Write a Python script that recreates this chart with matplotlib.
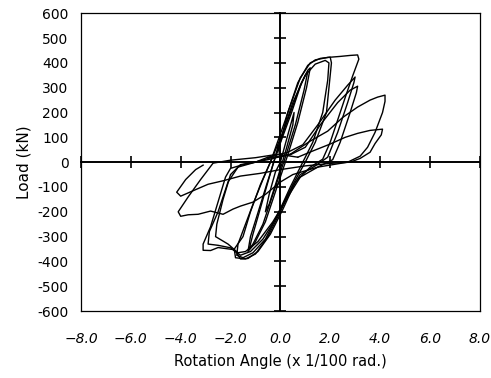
import matplotlib
matplotlib.use("Agg")
import matplotlib.pyplot as plt

# -------------------------------------------------
# Data (rotation angle x 1/100 rad, load kN)
# -------------------------------------------------

X_TICKS = [-8, -6, -4, -2, 0, 2, 4, 6, 8]
X_LABELS = ["\u22128.0", "\u22126.0", "\u22124.0", "\u22122.0", "0.0", "2.0", "4.0", "6.0", "8.0"]
Y_TICKS = [-600, -500, -400, -300, -200, -100, 0, 100, 200, 300, 400, 500, 600]
Y_LABELS = ["-600", "-500", "-400", "-300", "-200", "-100", "0",
            "100", "200", "300", "400", "500", "600"]

# cycle at +-0.5
c1_x = [0.0, 0.3, 0.55, 0.5, 0.2, -0.1, -0.45, -0.6, -0.45, -0.2, 0.0]
c1_y = [0, 110, 200, 150, 40, -60, -170, -200, -130, -40, 0]

# cycles at +-1.0
c2_x = [-0.1, 0.4, 0.8, 1.0, 1.1, 0.95, 0.6, 0.2, -0.2, -0.7, -1.1, -1.25, -1.1, -0.9, -0.5, -0.1]
c2_y = [60, 200, 310, 350, 365, 290, 150, 20, -100, -250, -330, -350, -290, -220, -80, 60]

c3_x = [-0.1, 0.45, 0.85, 1.1, 1.2, 1.05, 0.7, 0.3, -0.1, -0.6, -1.05, -1.3, -1.2, -0.95, -0.55, -0.1]
c3_y = [50, 200, 320, 370, 380, 300, 160, 30, -90, -240, -330, -360, -300, -220, -90, 50]

# cycles at +-2.0
c4_x = [-0.1, 0.3, 0.8, 1.2, 1.6, 2.0, 2.05, 1.85, 1.4, 1.0, 0.5, 0.0, -0.5, -1.0,
        -1.4, -1.8, -1.85, -1.5, -1.2, -0.8, -0.4]
c4_y = [40, 200, 340, 400, 418, 423, 400, 200, 80, 0, -90, -200, -300, -370,
        -390, -385, -350, -300, -200, -90, 0]

c5_x = [-0.4, 0.1, 0.5, 1.0, 1.4, 1.8, 1.95, 1.9, 1.7, 1.3, 0.9, 0.4, -0.1, -0.6,
        -1.1, -1.5, -1.75, -1.7, -1.4, -1.1, -0.7, -0.4]
c5_y = [0, 120, 240, 350, 395, 410, 400, 330, 200, 80, 0, -100, -210, -310,
        -365, -385, -375, -330, -250, -170, -70, 0]

# cycles at +-3.0
c6_x = [-0.4, 0.2, 0.7, 1.1, 1.4, 1.9, 2.4, 2.8, 3.1, 3.15, 2.9, 2.6, 2.3, 2.0, 1.7,
        1.2, 0.6, 0.1, -0.4, -0.9, -1.3, -1.6, -1.75, -1.9, -2.2, -2.5, -2.8, -3.1,
        -3.1, -2.8, -2.5, -2.2, -2.0, -1.5, -1.0, -0.5]
c6_y = [0, 170, 320, 390, 412, 422, 426, 430, 432, 415, 347, 260, 170, 80, 12,
        -20, -80, -190, -290, -360, -388, -390, -365, -352, -348, -344, -356, -355,
        -330, -260, -160, -60, -25, -10, 0, 20]

c7_x = [-0.5, 0.3, 0.9, 1.5, 2.2, 2.7, 3.0, 2.95, 2.7, 2.3, 1.9, 1.4, 0.8, 0.3, -0.2,
        -0.7, -1.2, -1.6, -2.0, -2.5, -2.9, -2.85, -2.5, -2.1, -1.7, -1.0, -0.3]
c7_y = [20, 40, 70, 150, 250, 310, 343, 320, 240, 120, 20, -15, -50, -130, -230,
        -310, -360, -375, -345, -335, -330, -280, -200, -80, -20, 0, 20]

c8_x = [-0.3, 0.4, 1.0, 1.6, 2.3, 2.8, 3.1, 3.05, 2.8, 2.4, 2.1, 1.5, 0.8, 0.3, -0.3,
        -0.9, -1.4, -1.7, -2.1, -2.6, -2.55, -2.3, -2.0, -1.6, -0.5, 0.4]
c8_y = [20, 30, 60, 150, 240, 290, 306, 280, 200, 80, 10, -20, -60, -140, -240,
        -320, -360, -365, -330, -300, -250, -150, -50, -10, 10, 32]

# cycles at +-4.0
c9_x = [0.4, 1.2, 1.9, 2.5, 3.1, 3.6, 3.9, 4.2, 4.2, 4.1, 3.8, 3.5, 3.2, 2.7, 1.5, 0.5,
        0.0, -0.6, -1.1, -1.6, -1.9, -2.3, -2.8, -3.3, -3.7, -4.0, -4.1, -3.7, -3.2,
        -2.7, -2.0, -1.0, -0.1, 0.7]
c9_y = [32, 85, 125, 180, 222, 250, 262, 270, 245, 200, 120, 60, 24, 0, -20, -50,
        -80, -130, -161, -177, -189, -210, -197, -210, -212, -218, -200, -140, -70,
        -4, 8, 18, 32, 20]

c10_x = [0.7, 1.3, 2.0, 2.6, 3.1, 3.6, 4.1, 4.05, 3.8, 3.6, 3.2, 2.8, 2.0, 1.0, 0.0,
         -0.8, -1.6, -2.3, -2.9, -3.5, -4.0, -4.16, -3.8, -3.4, -3.1]
c10_y = [20, 45, 73, 100, 116, 128, 133, 110, 75, 40, 15, 0, -5, -15, -30,
         -45, -56, -75, -89, -115, -137, -121, -70, -30, -12]

cycles = [(c1_x, c1_y), (c2_x, c2_y), (c3_x, c3_y), (c4_x, c4_y), (c5_x, c5_y),
          (c6_x, c6_y), (c7_x, c7_y), (c8_x, c8_y), (c9_x, c9_y), (c10_x, c10_y)]

# -------------------------------------------------
# Figure
# -------------------------------------------------

fig = plt.figure(figsize=(4.91, 3.78), dpi=100)
pos = [0.165, 0.177, 0.812, 0.788]

ax = fig.add_axes(pos)
ax.set_xlim(-8, 8)
ax.set_ylim(-600, 600)

for cx, cy in cycles:
    ax.plot(cx, cy, color="black", linewidth=1.0)

for s in ax.spines.values():
    s.set_linewidth(0.9)

ax.set_xticks(X_TICKS)
ax.set_xticklabels(X_LABELS, fontstyle="italic", fontsize=10)
ax.set_yticks(Y_TICKS)
ax.set_yticklabels(Y_LABELS, fontsize=10)
ax.tick_params(axis="x", length=0, pad=15)
ax.tick_params(axis="y", length=0, pad=9)

ax.set_xlabel("Rotation Angle (x 1/100 rad.)", fontsize=10.5, labelpad=6)
ax.set_ylabel("Load (kN)", fontsize=11, labelpad=4)

# -------------------------------------------------
# Center axes with cross ticks
# -------------------------------------------------

ax2 = fig.add_axes(pos, facecolor="none")
ax2.set_xlim(-8, 8)
ax2.set_ylim(-600, 600)
ax2.spines["left"].set_position(("data", 0))
ax2.spines["bottom"].set_position(("data", 0))
ax2.spines["top"].set_visible(False)
ax2.spines["right"].set_visible(False)
ax2.spines["left"].set_linewidth(1.4)
ax2.spines["bottom"].set_linewidth(1.4)
ax2.set_xticks(X_TICKS)
ax2.set_yticks(Y_TICKS)
ax2.tick_params(direction="inout", length=8, width=1.2,
                labelbottom=False, labelleft=False)

plt.savefig("out.png", dpi=100)
plt.close()
